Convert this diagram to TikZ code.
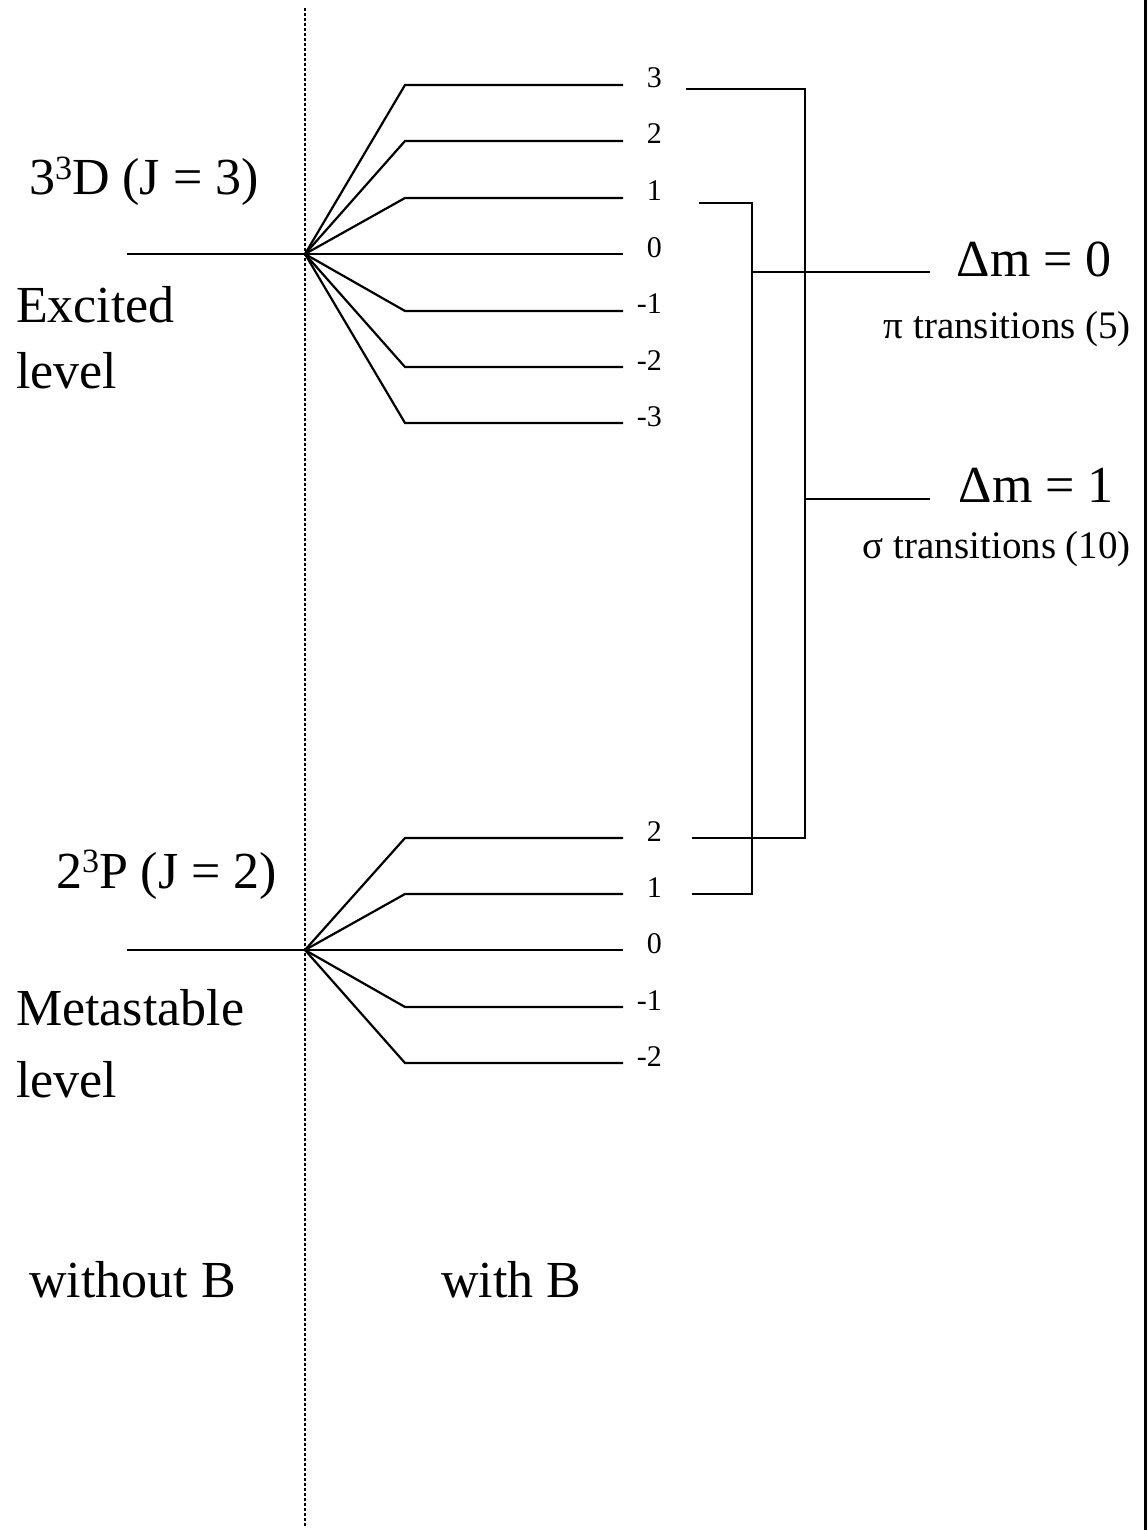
\documentclass[tikz,border=0pt]{standalone}
\usepackage{fontspec}
\setmainfont{Liberation Serif}
\usetikzlibrary{calc}
\newcommand{\supthree}{\raisebox{0.3em}{\fontsize{17}{20}\selectfont 3}}
\begin{document}
\begin{tikzpicture}[x=0.5pt,y=-0.5pt,line width=1.1pt,
  big/.style={font=\fontsize{26}{30}\selectfont, inner sep=0pt, anchor=base west},
  num/.style={font=\fontsize{15}{18}\selectfont, inner sep=0pt, anchor=base east},
  dm/.style={font=\fontsize{26}{30}\selectfont, inner sep=0pt, anchor=base east},
  trans/.style={font=\fontsize{19.5}{23}\selectfont, inner sep=0pt, anchor=base east},
  sep/.style={line width=1.3pt, dash pattern=on 1.5pt off 1pt},
  frame/.style={line width=1.5pt}]
\useasboundingbox (0,0) rectangle (1147,1530);

% separator and right frame line
\coordinate (septop) at (305,8);
\coordinate (sepbot) at (305,1528);
\draw[sep] (septop) -- (sepbot);
\coordinate (frtop) at (1145.5,0);
\coordinate (frbot) at (1145.5,1530);
\draw[frame] (frtop) -- (frbot);

% upper level
\coordinate (UL) at (127,254);
\coordinate (U) at (305,254);
\draw (UL) -- (U);
\foreach \n/\m/\y in {a/3/85,b/2/141,c/1/198,d/0/254,e/-1/311,f/-2/367,g/-3/423} {
  \coordinate (ua\n) at (405,\y);
  \coordinate (ub\n) at (623,\y);
  \draw (U) -- (ua\n) -- (ub\n);
  \node[num] (un\n) at (663,\y+3) {\m};
}

% lower level
\coordinate (LL) at (127,950);
\coordinate (L) at (305,950);
\draw (LL) -- (L);
\foreach \n/\m/\y in {a/2/838,b/1/894,c/0/950,d/-1/1007,e/-2/1063} {
  \coordinate (la\n) at (405,\y);
  \coordinate (lb\n) at (623,\y);
  \draw (L) -- (la\n) -- (lb\n);
  \node[num] (ln\n) at (663,\y+3) {\m};
}

% pi bracket (Delta m = 0)
\coordinate (pA) at (699,203);
\coordinate (pB) at (752,203);
\coordinate (pC) at (752,894);
\coordinate (pD) at (692,894);
\draw (pA) -- (pB) -- (pC) -- (pD);
\coordinate (pM) at (752,272);
\coordinate (pE) at (930,272);
\draw (pM) -- (pE);

% sigma bracket (Delta m = 1)
\coordinate (sA) at (686,89);
\coordinate (sB) at (805,89);
\coordinate (sC) at (805,838);
\coordinate (sD) at (692,838);
\draw (sA) -- (sB) -- (sC) -- (sD);
\coordinate (sM) at (805,499);
\coordinate (sE) at (930,499);
\draw (sM) -- (sE);

% labels
\node[big] (t3d) at (28,195) {3\supthree D (J = 3)};
\node[big] (texc) at (15,322) {Excited};
\node[big] (tlev1) at (15,388) {level};
\node[big] (t2p) at (55,888) {2\supthree P (J = 2)};
\node[big] (tmeta) at (15,1025) {Metastable};
\node[big] (tlev2) at (15,1097) {level};
\node[big] (twout) at (28,1297) {without B};
\node[big] (twith) at (440,1297) {with B};

\node[dm] (dm0) at (1113,277) {Δm = 0};
\node[trans] (tpi) at (1132,338) {π transitions (5)};
\node[dm] (dm1) at (1115,502) {Δm = 1};
\node[trans] (tsig) at (1132,558) {σ transitions (10)};
\end{tikzpicture}
\end{document}
